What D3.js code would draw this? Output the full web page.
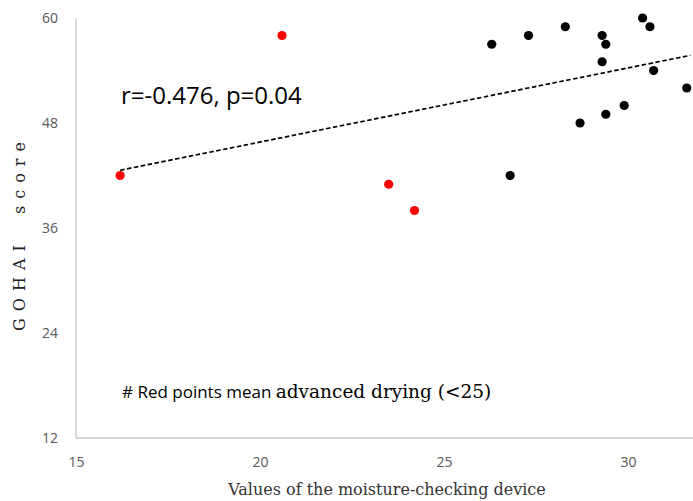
<!DOCTYPE html>
<html><head><meta charset="utf-8">
<script src="https://cdn.jsdelivr.net/npm/d3@7"></script>
<style>body{margin:0;background:#fff}</style>
</head><body>
<svg id="c" width="693" height="501"></svg>
<script>
const redX = [16.2, 20.6, 23.5, 24.2];
const redY = [42, 58, 41, 38];
const blackX = [26.3, 27.3, 28.3, 29.3, 29.4, 29.3, 30.4, 30.6, 30.7, 31.6, 29.9, 29.4, 28.7, 26.8];
const blackY = [57, 58, 59, 58, 57, 55, 60, 59, 54, 52, 50, 49, 48, 42];
const xTicks = [15, 20, 25, 30];
const yTicks = [12, 24, 36, 48, 60];
const statText = "r=-0.476, p=0.04";
const noteSans = "# Red points mean ";
const noteSerif = "advanced drying (<25)";
const xTitle = "Values of the moisture-checking device";
const yTitle = "GOHAI  score";

const svg = d3.select("#c");
const L = 76, R = 693, T = 18, B = 438;
const x = d3.scaleLinear().domain([15, 31.77]).range([L, R]);
const y = d3.scaleLinear().domain([12, 60]).range([B, T]);

svg.append("line").attr("x1", L).attr("x2", L).attr("y1", T).attr("y2", B).attr("stroke", "#c8c8c8").attr("stroke-width", 1.3);
svg.append("line").attr("x1", L).attr("x2", R).attr("y1", B).attr("y2", B).attr("stroke", "#c8c8c8").attr("stroke-width", 1.3);

const yAxis = d3.axisLeft(y).tickValues(yTicks).tickSize(0).tickPadding(18);
const gy = svg.append("g").attr("transform", `translate(${L},0)`).call(yAxis);
gy.select(".domain").remove();
gy.selectAll("text").attr("font-family", "'Open Sans', sans-serif").attr("font-size", 14).attr("fill", "#595959");

const xAxis = d3.axisBottom(x).tickValues(xTicks).tickSize(0).tickPadding(19);
const gx = svg.append("g").attr("transform", `translate(0,${B})`).call(xAxis);
gx.select(".domain").remove();
gx.selectAll("text").attr("font-family", "'Open Sans', sans-serif").attr("font-size", 14).attr("fill", "#595959");

const allX = redX.concat(blackX), allY = redY.concat(blackY);
const mx = d3.mean(allX), my = d3.mean(allY);
const slope = d3.sum(allX, (v, i) => (v - mx) * (allY[i] - my)) / d3.sum(allX, v => (v - mx) * (v - mx));
const x0 = d3.min(allX), x1 = d3.max(allX) + 0.1;
svg.append("line")
  .attr("x1", x(x0)).attr("y1", y(my + slope * (x0 - mx)))
  .attr("x2", x(x1)).attr("y2", y(my + slope * (x1 - mx)))
  .attr("stroke", "#000").attr("stroke-width", 1.7).attr("stroke-dasharray", "4.5,2.5");

svg.append("g").selectAll("circle").data(blackX).join("circle")
  .attr("cx", d => x(d)).attr("cy", (d, i) => y(blackY[i])).attr("r", 4.6).attr("fill", "#000");
svg.append("g").selectAll("circle").data(redX).join("circle")
  .attr("cx", d => x(d)).attr("cy", (d, i) => y(redY[i])).attr("r", 4.6).attr("fill", "#ff0000");

svg.append("text").attr("x", 121).attr("y", 104).attr("font-family", "'Open Sans', sans-serif")
  .attr("font-size", 24).attr("fill", "#000").text(statText);

const note = svg.append("text").attr("x", 122).attr("y", 398).attr("fill", "#000");
note.append("tspan").attr("font-family", "'Open Sans', sans-serif").attr("font-size", 17).text(noteSans);
note.append("tspan").attr("font-family", "'DejaVu Serif', 'Liberation Serif', serif").attr("font-size", 18.5).text(noteSerif);

svg.append("text").attr("x", 387).attr("y", 495).attr("text-anchor", "middle")
  .attr("font-family", "'DejaVu Serif', serif").attr("font-size", 16).attr("fill", "#333").text(xTitle);

svg.append("text").attr("transform", "translate(25,233) rotate(-90)").attr("text-anchor", "middle")
  .attr("font-family", "'DejaVu Serif', serif").attr("font-size", 16).attr("letter-spacing", 7).style("white-space", "pre").attr("fill", "#222").text(yTitle);
</script>
</body></html>
